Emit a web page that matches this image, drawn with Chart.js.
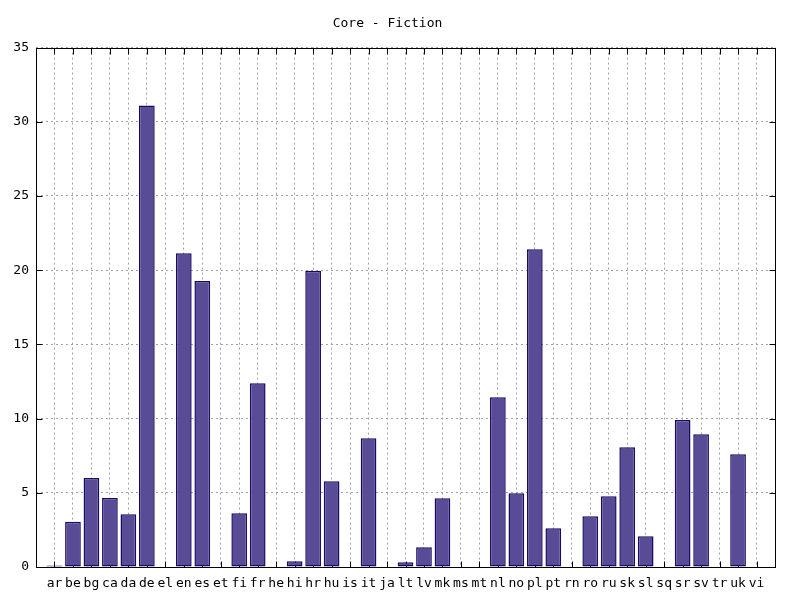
<!DOCTYPE html>
<html>
<head>
<meta charset="utf-8">
<script src="https://cdn.jsdelivr.net/npm/chart.js@4/dist/chart.umd.min.js"></script>
<style>html,body{margin:0;padding:0;background:#fff;}canvas{display:block;}</style>
</head>
<body>
<canvas id="c" width="800" height="600"></canvas>
<script>
const title = "Core - Fiction";
const categories = ["ar","be","bg","ca","da","de","el","en","es","et","fi","fr","he","hi","hr","hu","is","it","ja","lt","lv","mk","ms","mt","nl","no","pl","pt","rn","ro","ru","sk","sl","sq","sr","sv","tr","uk","vi"];
const values = [0.1,3.05,6.0,4.65,3.55,31.1,null,21.15,19.27,null,3.62,12.39,null,0.38,19.96,5.78,null,8.68,null,0.32,1.33,4.63,null,null,11.44,4.97,21.42,2.61,null,3.42,4.77,8.07,2.07,null,9.91,8.95,null,7.6,null];
const yTicks = [0,5,10,15,20,25,30,35];

const FONT = {family: "'DejaVu Sans Mono', monospace", size: 13, weight: 'normal'};
const points = categories.map((c, i) => ({x: i, y: values[i]}));

function edges(a) {
  return {L: Math.round(a.left) + 0.5, R: Math.round(a.right) + 0.5,
          T: Math.round(a.top) + 0.5, B: Math.round(a.bottom) + 0.5};
}

const frameTicks = {
  id: 'frameTicks',
  beforeDatasetsDraw(chart) {
    const {ctx, chartArea: a, scales} = chart;
    const {L, R, T, B} = edges(a);
    ctx.save();
    ctx.strokeStyle = '#000';
    ctx.lineWidth = 1;
    ctx.beginPath();
    yTicks.forEach(v => {
      const y = Math.round(scales.y.getPixelForValue(v)) + 0.5;
      ctx.moveTo(L, y); ctx.lineTo(L + 6, y);
      ctx.moveTo(R, y); ctx.lineTo(R - 6, y);
    });
    categories.forEach((c, i) => {
      const x = Math.round(scales.x.getPixelForValue(i)) + 0.5;
      ctx.moveTo(x, B); ctx.lineTo(x, B - 6);
      ctx.moveTo(x, T); ctx.lineTo(x, T + 6);
    });
    ctx.stroke();
    ctx.restore();
  },
  afterDraw(chart) {
    const {ctx, chartArea: a} = chart;
    const {L, R, T, B} = edges(a);
    ctx.save();
    ctx.strokeStyle = '#000';
    ctx.lineWidth = 1;
    ctx.strokeRect(L, T, R - L, B - T);
    ctx.restore();
  }
};

new Chart(document.getElementById('c'), {
  type: 'bar',
  data: {
    datasets: [{
      data: points,
      backgroundColor: '#5a4b97',
      borderColor: '#170b66',
      borderWidth: 1.5,
      borderSkipped: false,
      barPercentage: 1,
      categoryPercentage: 0.85
    }]
  },
  options: {
    responsive: false,
    animation: false,
    layout: {padding: {left: 0, right: 25, top: 0, bottom: 0}},
    plugins: {
      legend: {display: false},
      tooltip: {enabled: false},
      title: {display: true, text: title, color: '#000', font: FONT, padding: {top: 16, bottom: 16}}
    },
    scales: {
      x: {
        type: 'linear',
        offset: false,
        min: -1, max: categories.length,
        afterFit(s) { s.height = 33; },
        afterBuildTicks(s) {
          const t = [];
          for (let i = -1; i <= categories.length; i++) t.push({value: i});
          s.ticks = t;
        },
        ticks: {
          autoSkip: false, maxRotation: 0, minRotation: 0, padding: 9,
          color: '#000', font: FONT,
          callback: v => categories[v] !== undefined ? categories[v] : ''
        },
        grid: {color: '#a0a0a0', drawTicks: false, lineWidth: 1, offset: false},
        border: {display: false, dash: [2, 3]}
      },
      y: {
        min: 0, max: 35,
        afterFit(s) { s.width = 36; },
        afterBuildTicks(s) { s.ticks = yTicks.map(v => ({value: v})); },
        ticks: {padding: 7, color: '#000', font: FONT},
        grid: {color: '#a0a0a0', drawTicks: false, lineWidth: 1},
        border: {display: false, dash: [2, 3]}
      }
    }
  },
  plugins: [frameTicks]
});
</script>
</body>
</html>
